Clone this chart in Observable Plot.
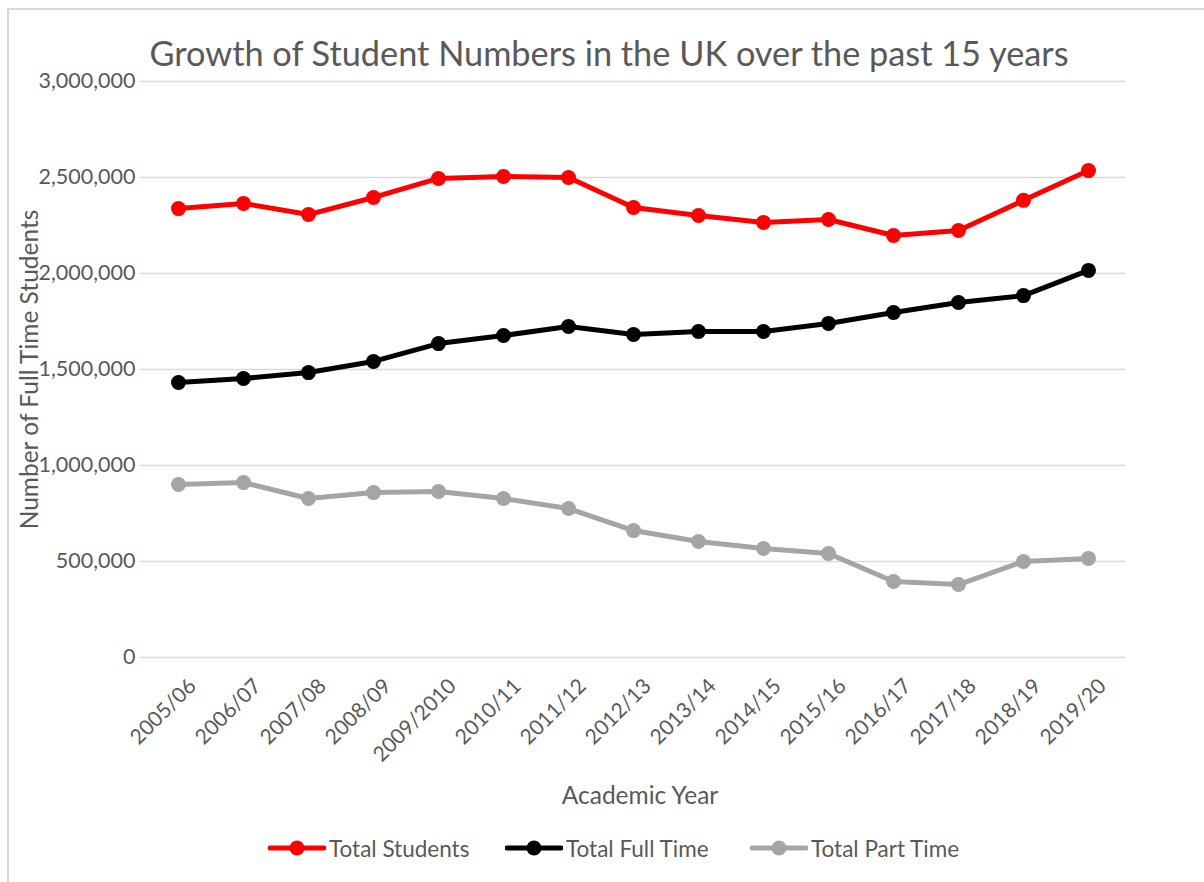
<!DOCTYPE html>
<html>
<head>
<meta charset="utf-8">
<script src="https://cdn.jsdelivr.net/npm/d3@7"></script>
<script src="https://cdn.jsdelivr.net/npm/@observablehq/plot@0.6"></script>
<style>
  html, body { margin: 0; padding: 0; background: #fff; }
  #wrap { position: relative; width: 1204px; height: 882px; overflow: hidden; font-family: Lato, "Open Sans", sans-serif; color: #595959; }
  #frame { position: absolute; left: 7px; top: 8px; width: 1300px; height: 1000px; border-left: 2px solid #d9d9d9; border-top: 2px solid #d9d9d9; }
  #chart { position: absolute; left: 0; top: 0; }
  #title { position: absolute; left: 0; width: 1218px; top: 32px; text-align: center; font-size: 34.3px; line-height: 42px; white-space: nowrap; }
  #legend { position: absolute; top: 834px; left: 0; width: 1204px; height: 28px; font-size: 22.5px; white-space: nowrap; }
  .item { position: absolute; top: 0; height: 28px; display: flex; align-items: center; }
  .item svg { display: block; margin-right: 3px; }
</style>
</head>
<body>
<div id="wrap">
  <div id="frame"></div>
  <div id="chart"></div>
  <div id="title"></div>
  <div id="legend"></div>
</div>
<script>
const years = ["2005/06","2006/07","2007/08","2008/09","2009/2010","2010/11","2011/12","2012/13","2013/14","2014/15","2015/16","2016/17","2017/18","2018/19","2019/20"];
const totalStudents = [2338000,2365000,2307000,2396000,2495000,2505000,2500000,2344000,2302000,2266000,2281000,2198000,2224000,2381000,2536000];
const totalFullTime = [1432000,1453000,1484000,1542000,1635000,1677000,1724000,1682000,1698000,1698000,1740000,1797000,1849000,1885000,2016000];
const totalPartTime = [901000,911000,828000,859000,865000,828000,776000,661000,604000,568000,542000,396000,380000,500000,516000];
const seriesNames = ["Total Students","Total Full Time","Total Part Time"];
const seriesColors = ["#ff0000","#000000","#a5a5a5"];
const yTicks = [0,500000,1000000,1500000,2000000,2500000,3000000];
const titleText = "Growth of Student Numbers in the UK over the past 15 years";
const xLabel = "Academic Year";
const yLabel = "Number of Full Time Students";

const seriesValues = [totalStudents, totalFullTime, totalPartTime];
const data = seriesNames.flatMap((s, i) => years.map((yr, j) => ({series: s, year: yr, value: seriesValues[i][j]})));

const plot = Plot.plot({
  width: 1204,
  height: 882,
  marginTop: 81,
  marginBottom: 225,
  marginLeft: 140,
  marginRight: 79,
  style: {fontFamily: "Lato, 'Open Sans', sans-serif", color: "#595959", background: "transparent"},
  x: {type: "point", domain: years, padding: 0.5},
  y: {domain: [0, 3000000]},
  color: {domain: seriesNames, range: seriesColors},
  marks: [
    Plot.gridY(yTicks, {stroke: "#d9d9d9", strokeOpacity: 1, strokeWidth: 1.5}),
    Plot.axisY(yTicks, {tickSize: 0, tickPadding: 5, tickFormat: d3.format(","), fontSize: 21.5, fill: "#595959", label: null}),
    Plot.axisX({tickRotate: -45, tickSize: 0, tickPadding: 0, dx: 14, dy: 25, fontSize: 21, fill: "#595959", label: null}),
    Plot.text([yLabel], {frameAnchor: "left", textAnchor: "middle", dx: -110, rotate: -90, fontSize: 24.5, fill: "#595959"}),
    Plot.text([xLabel], {frameAnchor: "bottom", dx: 7, dy: 146, fontSize: 24.5, fill: "#595959"}),
    Plot.line(data, {x: "year", y: "value", z: "series", stroke: "series", strokeWidth: 5}),
    Plot.dot(data, {x: "year", y: "value", fill: "series", r: 7.5})
  ]
});
document.getElementById("chart").appendChild(plot);
document.getElementById("title").textContent = titleText;

const legend = document.getElementById("legend");
const lefts = [268, 505, 750];
seriesNames.forEach((name, i) => {
  const item = document.createElement("div");
  item.className = "item";
  item.style.left = lefts[i] + "px";
  item.innerHTML = `<svg width="58" height="20"><line x1="2" x2="56" y1="10" y2="10" stroke="${seriesColors[i]}" stroke-width="5" stroke-linecap="round"/><circle cx="29" cy="10" r="7.5" fill="${seriesColors[i]}"/></svg><span>${name}</span>`;
  legend.appendChild(item);
});
</script>
</body>
</html>
